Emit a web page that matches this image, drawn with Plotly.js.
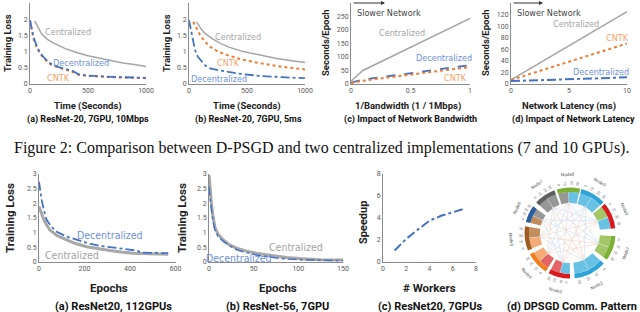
<!DOCTYPE html>
<html><head><meta charset="utf-8">
<script src="https://cdn.plot.ly/plotly-3.0.1.min.js"></script>
<style>html,body{margin:0;padding:0;background:#fff}#chart{width:640px;height:312px}</style>
</head><body><div id="chart"></div>
<script>
// ---- Data ----
// Top (a) ResNet-20, 7GPU, 10Mbps
const topA_time_cent = [40,100,150,200,300,400,500,600,700,800,900,1000];
const topA_loss_cent = [1.95,1.55,1.38,1.27,1.1,0.97,0.87,0.79,0.72,0.65,0.6,0.54];
const topA_time_dec = [0,15,30,60,90,130,180,250,320,370,420,500,700,1000];
const topA_loss_dec = [1.97,1.7,1.45,1.15,0.95,0.78,0.62,0.52,0.45,0.4,0.3,0.26,0.22,0.19];
const topA_loss_cntk = [1.95,1.62,1.4,1.1,0.92,0.75,0.6,0.5,0.42,0.37,0.28,0.25,0.21,0.18];
// Top (b) ResNet-20, 7GPU, 5ms
const topB_time_cent = [66,100,138,200,267,350,468,600,756,900,1000];
const topB_loss_cent = [1.92,1.72,1.56,1.40,1.26,1.13,1.0,0.9,0.79,0.71,0.66];
const topB_time_cntk = [37,60,95,140,181,250,325,450,612,800,1000];
const topB_loss_cntk = [1.92,1.75,1.51,1.3,1.15,1.0,0.9,0.76,0.64,0.53,0.45];
const topB_time_dec = [0,10,23,40,52,75,109,140,181,250,325,450,612,800,1000];
const topB_loss_dec = [1.97,1.8,1.56,1.25,1.05,0.85,0.69,0.57,0.48,0.43,0.38,0.31,0.25,0.21,0.18];
// Top (c) Impact of network bandwidth
const topC_invbw = [0,0.1,1];
const topC_cent = [10,50,243];
const topC_dec = [5,16,70];
const topC_cntk = [3,12,63];
// Top (d) Impact of network latency
const topD_lat = [0,5,10];
const topD_cent = [7,66,125];
const topD_cntk = [7,38,70];
const topD_dec = [5,8,11.5];
// Bottom (a) ResNet20, 112GPUs
const botA_ep_cent = [0,10,19,30,48,80,122,160,210,260,312,360,415,480,568];
const botA_loss_cent = [1.89,1.65,1.49,1.3,1.09,0.9,0.75,0.63,0.52,0.45,0.39,0.34,0.3,0.28,0.26];
const botA_ep_dec = [0,5,12,22,34,55,78,120,166,210,268,320,385,420,458,500,568];
const botA_loss_dec = [2.74,2.4,2.1,1.75,1.43,1.2,1.03,0.87,0.75,0.65,0.55,0.5,0.43,0.4,0.32,0.32,0.3];
// Bottom (b) ResNet-56, 7GPU
const botB_ep = [0,1,2.7,4,6.5,10,16,23,31,42,53,70,87,105,124,150];
const botB_loss_cent = [2.97,2.5,2.0,1.65,1.2,0.95,0.75,0.58,0.47,0.37,0.3,0.22,0.15,0.11,0.08,0.07];
const botB_loss_dec = [2.57,2.2,1.8,1.5,1.1,0.88,0.7,0.55,0.42,0.32,0.24,0.16,0.1,0.07,0.06,0.05];
// Bottom (c) Speedup
const botC_workers = [1,2,3,4,5,6,7];
const botC_speedup = [1.05,2.1,2.95,3.75,4.2,4.5,4.85];
// Bottom (d) DPSGD communication pattern (chord diagram)
const nodeNames = ['Node8','Node9','Node0','Node1','Node2','Node3','Node4','Node5','Node6','Node7'];
const nodeAngle = [-2,31,67,110,153,194,227,263,295,326];
const nodeSpan  = [30,33,34,32,42,28,30,31,22,28];
const nodeColor = ['#7cb034','#2ea3d6','#d71a1f','#7cb034','#2ea3d6','#d71a1f','#f0801f','#a15d22','#2a5d9f','#5f5f5f'];
const nodeInnerA = ['#8f8f8f','#5dbde2','#9cc25c','#9cc25c','#5dbde2','#5dbde2','#e2575b','#f4a56c','#bb8650','#8f8f8f'];
const nodeInnerB = ['#5dbde2','#5dbde2','#5dbde2','#9cc25c','#5dbde2','#e2575b','#f4a56c','#bb8650','#8f8f8f','#8f8f8f'];
const nodeTicks = ['0','10','20','30'];
const chordPairs = [[0,4],[0,6],[1,5],[1,7],[2,6],[2,8],[3,7],[3,9],[4,8],[5,9],[0,5],[1,6],[2,7],[3,8],[4,9],[0,3],[2,5],[4,7],[6,9],[1,4],[3,6],[5,8],[7,0],[9,2]];

// ---- Styling helpers ----
const GRAY='#a5a5a5', BLUE='#4472c4', ORANGE='#ed7d31';
const GRAYT='#a3a3a3', BLUET='#6e90dc', ORANGET='#f3a26c';
const W=640,H=312;
const px=x=>x/W, py=y=>1-y/H;
const labFont='Liberation Sans Narrow, DejaVu Sans Condensed, Roboto, sans-serif';
const boldFont='Roboto, Liberation Sans, sans-serif';

function ax(dom, range, tickvals, extra){
  return Object.assign({domain:dom, range:range, tickvals:tickvals, showgrid:false, zeroline:false,
    showline:true, linecolor:'#8c8c8c', linewidth:1, ticks:'', tickfont:{size:7,color:'#595959',family:boldFont},
    fixedrange:true}, extra||{});
}

const traces=[];
function line(x,y,xa,ya,color,dash,width){
  traces.push({type:'scatter',mode:'lines',x:x,y:y,xaxis:xa,yaxis:ya,
    line:{color:color,dash:dash,width:width},hoverinfo:'skip',showlegend:false});
}
// top a
line(topA_time_cent,topA_loss_cent,'x','y',GRAY,'solid',1.5);
line(topA_time_dec,topA_loss_cntk,'x','y',ORANGE,'dot',2);
line(topA_time_dec,topA_loss_dec,'x','y',BLUE,'dashdot',1.8);
// top b
line(topB_time_cent,topB_loss_cent,'x2','y2',GRAY,'solid',1.5);
line(topB_time_cntk,topB_loss_cntk,'x2','y2',ORANGE,'dot',2);
line(topB_time_dec,topB_loss_dec,'x2','y2',BLUE,'dashdot',1.8);
// top c
line(topC_invbw,topC_cent,'x3','y3',GRAY,'solid',1.5);
line(topC_invbw,topC_dec,'x3','y3',BLUE,'dash',1.8);
line(topC_invbw,topC_cntk,'x3','y3',ORANGE,'dot',2);
// top d
line(topD_lat,topD_cent,'x4','y4',GRAY,'solid',1.5);
line(topD_lat,topD_cntk,'x4','y4',ORANGE,'dot',2);
line(topD_lat,topD_dec,'x4','y4',BLUE,'dashdot',2);
// bottom a
line(botA_ep_cent,botA_loss_cent,'x5','y5','#a8a8a8','solid',3);
line(botA_ep_dec,botA_loss_dec,'x5','y5',BLUE,'dashdot',1.8);
// bottom b
line(botB_ep,botB_loss_cent,'x6','y6','#a8a8a8','solid',3);
line(botB_ep,botB_loss_dec,'x6','y6',BLUE,'dashdot',1.5);
// bottom c
line(botC_workers,botC_speedup,'x7','y7',BLUE,'dashdot',2);

// chord diagram
chordPairs.forEach((p,i)=>{
  traces.push({type:'scatterpolar',mode:'lines',subplot:'polar',
    r:[31,31],theta:[nodeAngle[p[0]],nodeAngle[p[1]]],
    line:{color:(i%2? '#cfe0f2':'#f2d9c8'),width:0.7},hoverinfo:'skip',showlegend:false});
});
// inner ribbons (two halves per node)
const thA=[],wA=[],cA=[],thB=[],wB=[],cB=[];
nodeAngle.forEach((a,i)=>{
  const h=nodeSpan[i]/2;
  thA.push(a-h/2); wA.push(h-0.5); cA.push(nodeInnerA[i]);
  thB.push(a+h/2); wB.push(h-0.5); cB.push(nodeInnerB[i]);
});
traces.push({type:'barpolar',subplot:'polar',theta:thA,width:wA,base:30,r:thA.map(()=>11),
  marker:{color:cA,line:{width:0}},opacity:0.92,hoverinfo:'skip',showlegend:false});
traces.push({type:'barpolar',subplot:'polar',theta:thB,width:wB,base:30,r:thB.map(()=>11),
  marker:{color:cB,line:{width:0}},opacity:0.92,hoverinfo:'skip',showlegend:false});
traces.push({type:'barpolar',subplot:'polar',theta:nodeAngle,width:nodeSpan,base:41,r:nodeAngle.map(()=>4.5),
  marker:{color:nodeColor,line:{width:0}},hoverinfo:'skip',showlegend:false});

// ---- Annotations ----
const ann=[];
function txt(x,y,text,size,color,opts){
  ann.push(Object.assign({xref:'paper',yref:'paper',x:px(x),y:py(y),text:text,showarrow:false,
    font:{size:size,color:color,family:boldFont},xanchor:'center',yanchor:'middle'},opts||{}));
}
function dlab(xa,ya,x,y,text,color,size){
  ann.push({xref:xa,yref:ya,x:x,y:y,text:text,showarrow:false,font:{size:size||9,color:color,family:labFont}});
}
// top axis titles
txt(8,43,'<b>Training Loss</b>',9.5,'#222',{textangle:-90});
txt(167,43,'<b>Training Loss</b>',9.5,'#222',{textangle:-90});
txt(326,43,'<b>Seconds/Epoch</b>',9.5,'#222',{textangle:-90});
txt(486,43,'<b>Seconds/Epoch</b>',9.5,'#222',{textangle:-90});
txt(88,106,'<b>Time (Seconds)</b>',9.5,'#222');
txt(247,106,'<b>Time (Seconds)</b>',9.5,'#222');
txt(408,106,'<b>1/Bandwidth (1 / 1Mbps)</b>',9.5,'#222');
txt(569,106,'<b>Network Latency (ms)</b>',9.5,'#222');
// top captions
txt(88,119,'<b>(a) ResNet-20, 7GPU, 10Mbps</b>',9,'#111');
txt(248,119,'<b>(b) ResNet-20, 7GPU, 5ms</b>',9,'#111');
txt(410,119,'<b>(c) Impact of Network Bandwidth</b>',9,'#111');
txt(573,119,'<b>(d) Impact of Network Latency</b>',9,'#111');
// figure caption
txt(321,148,'Figure 2: Comparison between D-PSGD and two centralized implementations (7 and 10 GPUs).',16,'#111',{font:{size:16,color:'#111',family:'Liberation Serif, Times New Roman, serif'}});
// bottom titles
txt(10,218,'<b>Training Loss</b>',11.5,'#222',{textangle:-90});
txt(182,218,'<b>Training Loss</b>',11.5,'#222',{textangle:-90});
txt(363,223,'<b>Speedup</b>',11,'#222',{textangle:-90});
txt(109,288,'<b>Epochs</b>',11.5,'#222');
txt(278,288,'<b>Epochs</b>',11.5,'#222');
txt(429,288,'<b># Workers</b>',11.5,'#222');
txt(113,306,'<b>(a) ResNet20, 112GPUs</b>',11,'#111');
txt(277,306,'<b>(b) ResNet-56, 7GPU</b>',11,'#111');
txt(430,306,'<b>(c) ResNet20, 7GPUs</b>',11,'#111');
txt(572,306,'<b>(d) DPSGD Comm. Pattern</b>',11,'#111');
// series labels
dlab('x','y',328,1.6,'Centralized',GRAYT,9);
dlab('x','y',438,0.66,'Decentralized',BLUET,9);
dlab('x','y',244,0.17,'CNTK',ORANGET,9);
dlab('x2','y2',425,1.44,'Centralized',GRAYT,9);
dlab('x2','y2',338,0.64,'CNTK',ORANGET,9);
dlab('x2','y2',259,0.16,'Decentralized',BLUET,9);
dlab('x3','y3',0.43,188,'Centralized',GRAYT,9);
dlab('x3','y3',0.78,95,'Decentralized',BLUET,9);
dlab('x3','y3',0.88,21,'CNTK',ORANGET,9);
dlab('x4','y4',5.6,104,'Centralized',GRAYT,9);
dlab('x4','y4',9.2,79,'CNTK',ORANGET,9);
dlab('x4','y4',7.8,20,'Decentralized',BLUET,9);
dlab('x5','y5',312,0.92,'Decentralized',BLUET,10.5);
dlab('x5','y5',147,0.24,'Centralized',GRAYT,10.5);
dlab('x6','y6',97,0.52,'Centralized',GRAYT,10.5);
dlab('x6','y6',33,0.12,'Decentralized',BLUET,10.5);
// slower network arrows
[[352,385],[512,543]].forEach(a=>{
  ann.push({xref:'paper',yref:'paper',x:px(a[1]),y:py(3),ax:-(a[1]-a[0]),ay:0,text:'',showarrow:true,
    arrowhead:2,arrowsize:0.8,arrowwidth:1,arrowcolor:'#333'});
  txt(a[0]+2.5,13,'Slower Network',9,'#444',{xanchor:'left',font:{size:9,color:'#444',family:labFont}});
});
// chord node labels and ticks
const CX=570, CY=233;
function tang(deg){let a=((deg%360)+360)%360; return (a>90&&a<270)? a-180 : (a>=270? a-360 : a);}
nodeNames.forEach((n,i)=>{
  const t=nodeAngle[i]*Math.PI/180, R=59;
  txt(CX+R*Math.sin(t), CY-R*Math.cos(t), n, 4.5, '#555', {textangle:tang(nodeAngle[i])});
  const s=nodeSpan[i];
  nodeTicks.forEach((tk,j)=>{
    const d=nodeAngle[i]-s/2+ (j+0.5)*s/nodeTicks.length, tr=d*Math.PI/180, R2=49.5;
    let a=((d%360)+360)%360; let ta=(a<180)? a-90 : a-270;
    txt(CX+R2*Math.sin(tr), CY-R2*Math.cos(tr), tk, 3.5, '#666', {textangle:ta});
  });
});

const layout={
  width:W,height:H,margin:{l:0,r:0,t:0,b:0},paper_bgcolor:'#fff',plot_bgcolor:'rgba(0,0,0,0)',
  showlegend:false,
  xaxis: ax([px(30),px(146)],[0,1000],[0,500,1000]),
  yaxis: ax([py(84),py(3)],[0,2.5],[0,0.5,1,1.5,2,2.5]),
  xaxis2: ax([px(189),px(305)],[0,1000],[0,500,1000]),
  yaxis2: ax([py(84),py(3)],[0,2.5],[0,0.5,1,1.5,2,2.5]),
  xaxis3: ax([px(351),px(470)],[0,1],[0,0.5,1]),
  yaxis3: ax([py(84),py(3)],[0,300],[0,50,100,150,200,250,300]),
  xaxis4: ax([px(511),px(627)],[0,10],[0,5,10]),
  yaxis4: ax([py(84),py(3)],[0,140],[0,20,40,60,80,100,120,140]),
  xaxis5: ax([px(39),px(175.5)],[0,600],[0,200,400,600]),
  yaxis5: ax([py(262),py(174)],[0,3],[0,0.5,1,1.5,2,2.5,3]),
  xaxis6: ax([px(209),px(343)],[0,150],[0,50,100,150]),
  yaxis6: ax([py(262),py(174)],[0,3],[0,0.5,1,1.5,2,2.5,3]),
  xaxis7: ax([px(383),px(476)],[0,8],[0,2,4,6,8]),
  yaxis7: ax([py(262),py(174)],[0,8],[0,2,4,6,8]),
  polar:{domain:{x:[px(CX-50),px(CX+50)],y:[py(CY+50),py(CY-50)]},bgcolor:'rgba(0,0,0,0)',
    radialaxis:{visible:false,range:[0,50]},
    angularaxis:{visible:false,rotation:90,direction:'clockwise'},
    bargap:0},
  annotations:ann
};
['xaxis','xaxis2','xaxis3','xaxis4','xaxis5','xaxis6','xaxis7'].forEach((k,i)=>{layout[k].anchor= i===0?'y':'y'+(i+1);});
['yaxis','yaxis2','yaxis3','yaxis4','yaxis5','yaxis6','yaxis7'].forEach((k,i)=>{layout[k].anchor= i===0?'x':'x'+(i+1);});
Plotly.newPlot('chart',traces,layout,{staticPlot:true,displayModeBar:false});
</script></body></html>
